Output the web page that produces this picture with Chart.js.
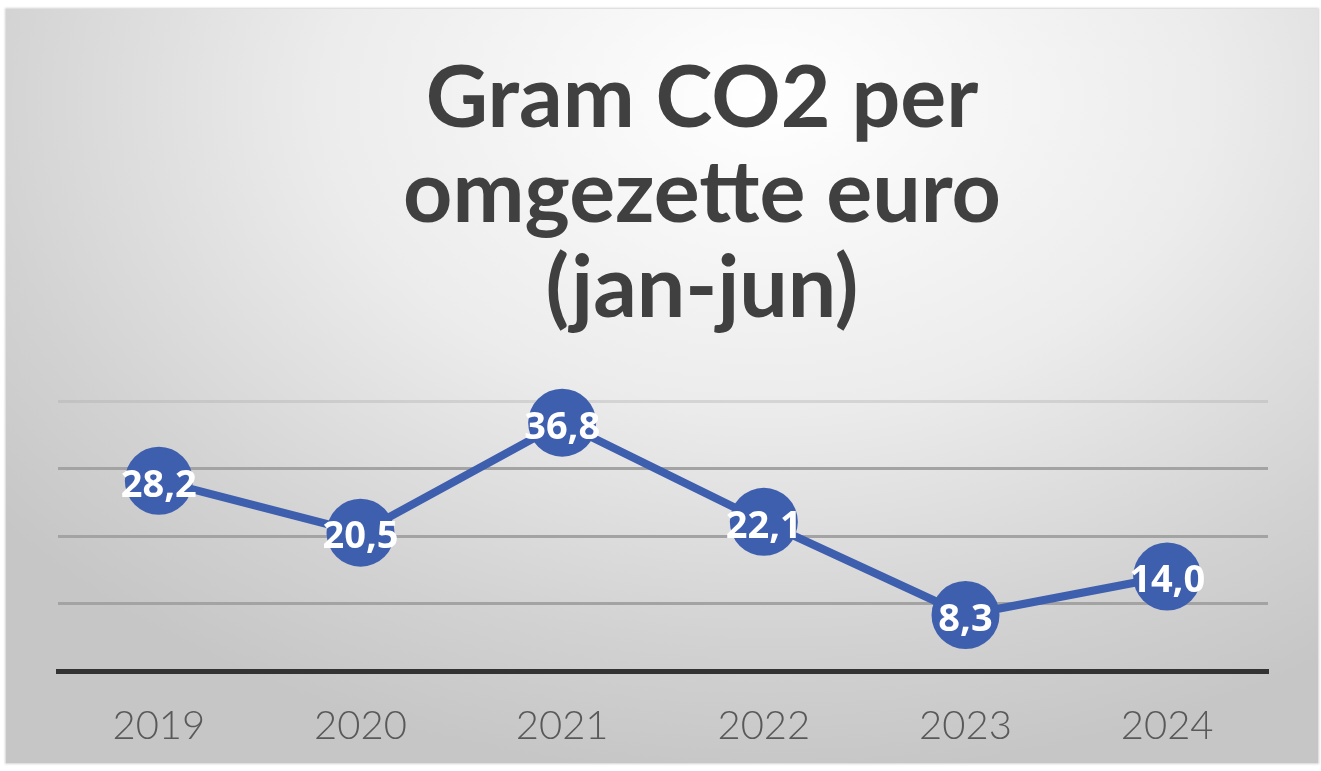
<!DOCTYPE html>
<html>
<head>
<meta charset="utf-8">
<script src="https://cdn.jsdelivr.net/npm/chart.js@4.4.1/dist/chart.umd.min.js"></script>
<style>
  html, body { margin: 0; padding: 0; background: #ffffff; }
  #card {
    position: absolute; left: 6px; top: 9px; width: 1312px; height: 754px;
    background: radial-gradient(ellipse 75% 90% at 58% 12%, #ffffff 0%, #ececec 45%, #d2d2d2 80%, #c6c6c6 100%);
    box-shadow: 0 0 2px 1px rgba(0,0,0,0.18);
  }
  #wrap { position: absolute; left: 0; top: 0; width: 1321px; height: 771px; }
</style>
</head>
<body>
<div id="card"></div>
<div id="wrap"><canvas id="co2Chart" width="1321" height="771"></canvas></div>
<script>
// ---------------- DATA ----------------
const years = ["2019", "2020", "2021", "2022", "2023", "2024"];
const gramPerEuro = [28.2, 20.5, 36.8, 22.1, 8.3, 14.0];
const titleLines = ["Gram CO2 per", "omgezette euro", "(jan-jun)"];

const blue = "#3E5EAE";

// values inside the dots, with Dutch decimal comma
const pointLabels = {
    id: "pointLabels",
    afterDatasetsDraw(chart) {
        const ctx = chart.ctx;
        const meta = chart.getDatasetMeta(0);
        ctx.save();
        ctx.fillStyle = "#ffffff";
        ctx.font = "bold 38px 'Open Sans'";
        ctx.textAlign = "center";
        ctx.textBaseline = "middle";
        meta.data.forEach((pt, i) => {
            const txt = gramPerEuro[i].toFixed(1).replace(".", ",");
            ctx.fillText(txt, pt.x, pt.y + 5);
        });
        ctx.restore();
    }
};

// title sits a bit right of the plot centre in the original
const shiftTitle = {
    id: "shiftTitle",
    afterLayout(chart) {
        if (chart.titleBlock) chart.titleBlock.left += 78;
    }
};

new Chart(document.getElementById("co2Chart"), {
    type: "line",
    data: {
        labels: years,
        datasets: [{
            data: gramPerEuro,
            borderColor: blue,
            backgroundColor: blue,
            borderWidth: 8,
            pointRadius: 34,
            pointHoverRadius: 34,
            pointBorderWidth: 0,
            pointBackgroundColor: blue,
            tension: 0,
            clip: false
        }]
    },
    options: {
        responsive: false,
        animation: false,
        layout: { autoPadding: false, padding: { left: 58, right: 53, top: 0, bottom: -10 } },
        plugins: {
            legend: { display: false },
            tooltip: { enabled: false },
            title: {
                display: true,
                text: titleLines,
                color: "#404040",
                font: { family: "Lato", size: 86, weight: "bold", lineHeight: 1.105 },
                padding: { top: 52, bottom: 64 }
            }
        },
        scales: {
            x: {
                offset: true,
                grid: { display: false, drawTicks: false, offset: true },
                border: { display: true, color: "#333333", width: 5 },
                ticks: {
                    color: "#595959",
                    font: { family: "Lato", size: 40, weight: "300" },
                    padding: 31
                }
            },
            y: {
                min: 0,
                max: 40,
                ticks: { display: false, stepSize: 10 },
                border: { display: false },
                grid: {
                    drawTicks: false,
                    lineWidth: 3,
                    color: ctx => ctx.tick && ctx.tick.value === 40 ? "rgba(170,170,170,0.35)" : "#a3a3a3"
                }
            }
        }
    },
    plugins: [pointLabels, shiftTitle]
});
</script>
</body>
</html>
